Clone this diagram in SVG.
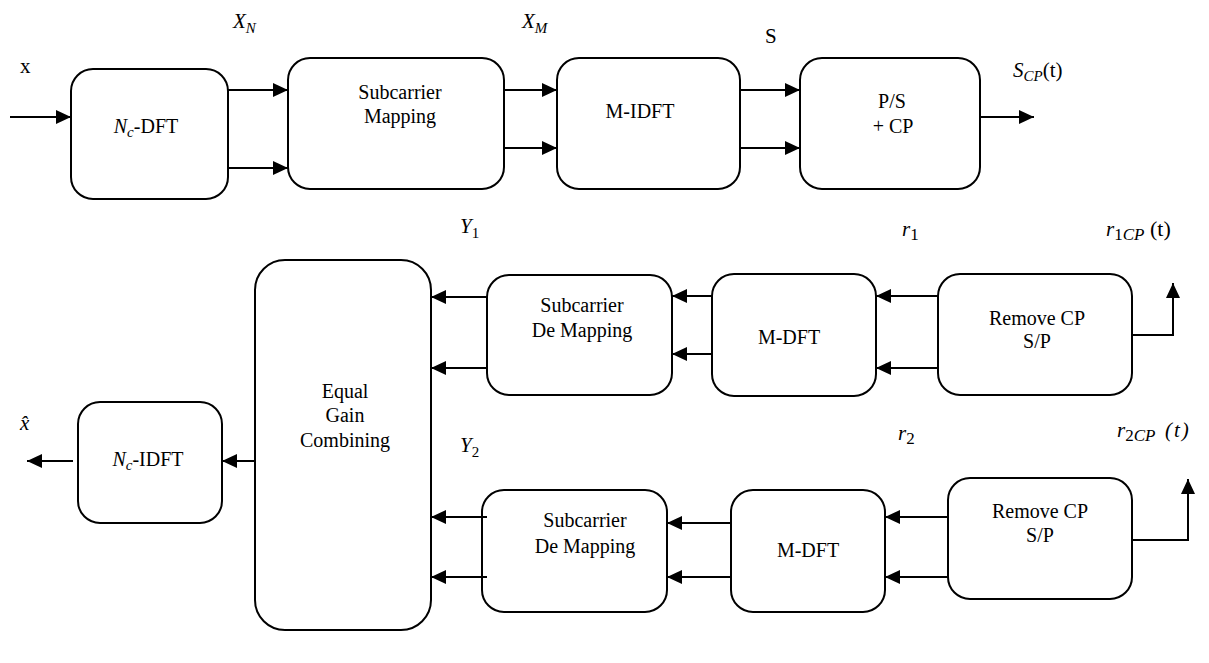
<svg xmlns="http://www.w3.org/2000/svg" width="1209" height="663" viewBox="0 0 1209 663">
  <defs>
    <marker id="arrow" markerUnits="userSpaceOnUse" markerWidth="15" markerHeight="14" refX="15" refY="7" orient="auto">
      <path d="M0,0 L15,7 L0,14 z" fill="#000"/>
    </marker>
    <style>
      .box { fill: #fff; stroke: #000; stroke-width: 2; }
      .arr { fill: none; stroke: #000; stroke-width: 2; marker-end: url(#arrow); }
      text { font-family: 'Liberation Serif', 'DejaVu Serif', 'Noto Serif', serif; fill: #000; }
      .t { font-size: 20px; text-anchor: middle; }
      .m { font-size: 21px; font-style: italic; }
      .lbl { font-size: 21px; }
      .sub { font-size: 15px; }
      .sub2 { font-size: 17px; }
    </style>
  </defs>
  <rect width="1209" height="663" fill="#fff"/>

  <!-- transmitter chain -->
  <g id="nc-dft">
    <rect class="box" x="71" y="69" width="157" height="130" rx="22"/>
    <text class="t" x="146" y="133"><tspan font-style="italic">N</tspan><tspan font-style="italic" class="sub" dy="4">c</tspan><tspan dy="-4">-DFT</tspan></text>
  </g>
  <g id="subcarrier-mapping">
    <rect class="box" x="288" y="58" width="216" height="131" rx="22"/>
    <text class="t" x="400" y="99">Subcarrier</text>
    <text class="t" x="400" y="123">Mapping</text>
  </g>
  <g id="m-idft">
    <rect class="box" x="557" y="58" width="183" height="131" rx="22"/>
    <text class="t" x="640" y="118" font-size="18">M-IDFT</text>
  </g>
  <g id="ps-cp">
    <rect class="box" x="800" y="58" width="180" height="131" rx="22"/>
    <text class="t" x="892" y="108" font-size="22">P/S</text>
    <text class="t" x="893" y="133" font-size="17">+ CP</text>
  </g>

  <!-- receiver branch 1 -->
  <g id="remove-cp-1">
    <rect class="box" x="938" y="274" width="194" height="121" rx="22"/>
    <text class="t" x="1037" y="325">Remove CP</text>
    <text class="t" x="1037" y="348">S/P</text>
  </g>
  <g id="m-dft-1">
    <rect class="box" x="712" y="274" width="164" height="122" rx="22"/>
    <text class="t" x="789" y="344">M-DFT</text>
  </g>
  <g id="demapping-1">
    <rect class="box" x="487" y="275" width="185" height="120" rx="22"/>
    <text class="t" x="582" y="312">Subcarrier</text>
    <text class="t" x="582" y="337">De Mapping</text>
  </g>

  <!-- receiver branch 2 -->
  <g id="remove-cp-2">
    <rect class="box" x="948" y="478" width="184" height="121" rx="22"/>
    <text class="t" x="1040" y="518">Remove CP</text>
    <text class="t" x="1040" y="542">S/P</text>
  </g>
  <g id="m-dft-2">
    <rect class="box" x="731" y="490" width="154" height="122" rx="22"/>
    <text class="t" x="808" y="557">M-DFT</text>
  </g>
  <g id="demapping-2">
    <rect class="box" x="482" y="490" width="185" height="122" rx="22"/>
    <text class="t" x="585" y="527">Subcarrier</text>
    <text class="t" x="585" y="553">De Mapping</text>
  </g>

  <!-- combiner and output transform -->
  <g id="egc">
    <rect class="box" x="255" y="260" width="176" height="370" rx="30"/>
    <text class="t" x="345" y="398">Equal</text>
    <text class="t" x="345" y="422">Gain</text>
    <text class="t" x="345" y="447">Combining</text>
  </g>
  <g id="nc-idft">
    <rect class="box" x="78" y="402" width="144" height="121" rx="22"/>
    <text class="t" x="148" y="466"><tspan font-style="italic">N</tspan><tspan font-style="italic" class="sub" dy="4">c</tspan><tspan dy="-4">-IDFT</tspan></text>
  </g>

  <!-- connectors -->
  <g id="connectors">
    <line class="arr" x1="10" y1="117" x2="71" y2="117"/>
    <line class="arr" x1="228" y1="90" x2="288" y2="90"/>
    <line class="arr" x1="228" y1="168" x2="288" y2="168"/>
    <line class="arr" x1="504" y1="90" x2="557" y2="90"/>
    <line class="arr" x1="504" y1="148" x2="557" y2="148"/>
    <line class="arr" x1="740" y1="90" x2="800" y2="90"/>
    <line class="arr" x1="740" y1="148" x2="800" y2="148"/>
    <line class="arr" x1="980" y1="117" x2="1034" y2="117"/>

    <polyline class="arr" points="1132,335 1173,335 1173,283"/>
    <line class="arr" x1="938" y1="296" x2="876" y2="296"/>
    <line class="arr" x1="938" y1="368" x2="876" y2="368"/>
    <line class="arr" x1="712" y1="296" x2="672" y2="296"/>
    <line class="arr" x1="712" y1="354" x2="672" y2="354"/>
    <line class="arr" x1="487" y1="297" x2="431" y2="297"/>
    <line class="arr" x1="487" y1="368" x2="431" y2="368"/>

    <polyline class="arr" points="1132,540 1188,540 1188,479"/>
    <line class="arr" x1="948" y1="517" x2="885" y2="517"/>
    <line class="arr" x1="948" y1="577" x2="885" y2="577"/>
    <line class="arr" x1="731" y1="523" x2="667" y2="523"/>
    <line class="arr" x1="731" y1="577" x2="667" y2="577"/>
    <line class="arr" x1="487" y1="517" x2="431" y2="517"/>
    <line class="arr" x1="487" y1="577" x2="431" y2="577"/>

    <line class="arr" x1="255" y1="461" x2="222" y2="461"/>
    <line class="arr" x1="73" y1="461" x2="27" y2="461"/>
  </g>

  <!-- signal labels -->
  <g id="labels">
    <text class="lbl" x="20" y="73" font-size="20">x</text>
    <text class="m" x="233" y="28">X<tspan class="sub" dy="5">N</tspan></text>
    <text class="m" x="522" y="28">X<tspan class="sub" dy="5">M</tspan></text>
    <text class="lbl" x="765" y="43" font-size="22">S</text>
    <text class="m" x="1013" y="77">S<tspan class="sub" dy="4">CP</tspan><tspan font-style="normal" dy="-4">(t)</tspan></text>
    <text class="m" x="460" y="233">Y<tspan class="sub" font-style="normal" dy="5">1</tspan></text>
    <text class="m" x="902" y="236" font-size="23">r<tspan class="sub2" font-style="normal" dy="4">1</tspan></text>
    <text class="m" x="1106" y="236" font-size="23">r<tspan class="sub2" font-style="normal" dy="4">1</tspan><tspan class="sub2">CP</tspan><tspan font-style="normal" font-size="22" x="1150" dy="-4">(t)</tspan></text>
    <text class="m" x="460" y="452">Y<tspan class="sub" font-style="normal" dy="5">2</tspan></text>
    <text class="m" x="898" y="440" font-size="23">r<tspan class="sub2" font-style="normal" dy="4">2</tspan></text>
    <text class="m" x="1117" y="437" font-size="23">r<tspan class="sub2" font-style="normal" dy="4">2</tspan><tspan class="sub2">CP</tspan><tspan x="1165" dy="-4" letter-spacing="2">(t)</tspan></text>
    <text class="m" x="20" y="430">x̂</text>
  </g>
</svg>
